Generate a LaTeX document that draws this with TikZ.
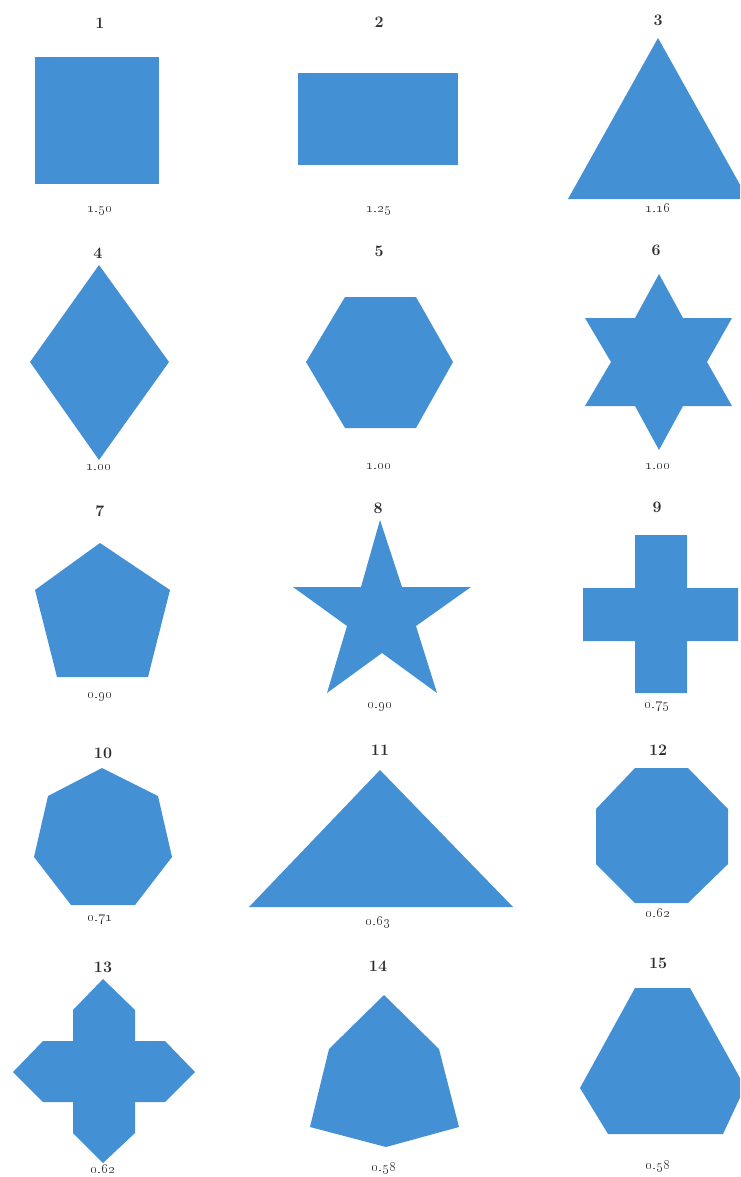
\documentclass[tikz,border=0pt]{standalone}
\definecolor{shapeblue}{RGB}{68,144,212}
\definecolor{inkgrey}{RGB}{45,45,45}
\begin{document}
\begin{tikzpicture}[x=1pt,y=-1pt,
  shp/.style={fill=shapeblue,draw=none},
  num/.style={font=\fontsize{16}{18}\selectfont\bfseries,text=inkgrey,inner sep=0pt},
  val/.style={font=\fontsize{15}{17}\selectfont,text=inkgrey,inner sep=0pt}]
\useasboundingbox (0,0) rectangle (740,1177);
\clip (0,0) rectangle (740,1177);
% 1 square
\fill[shp] (35,57) rectangle (159,184);
\node[num] (n1) at (100,23) {1};
\node[val] (v1) at (100,211) {\oldstylenums{1.50}};
% 2 rectangle
\fill[shp] (298,73) rectangle (458,165);
\node[num] (n2) at (379,22) {2};
\node[val] (v2) at (379,211) {\oldstylenums{1.25}};
% 3 triangle
\fill[shp] (658,38) -- (568,199) -- (748,199) -- cycle;
\node[num] (n3) at (658,20) {3};
\node[val] (v3) at (658,208) {\oldstylenums{1.16}};
% 4 diamond
\fill[shp] (99,265) -- (169,362) -- (99,460) -- (30,362) -- cycle;
\node[num] (n4) at (98,253) {4};
\node[val] (v4) at (99,467) {\oldstylenums{1.00}};
% 5 hexagon
\fill[shp] (345,297) -- (416,297) -- (453,362) -- (416,428) -- (345,428) -- (306,362) -- cycle;
\node[num] (n5) at (379,251) {5};
\node[val] (v5) at (379,466) {\oldstylenums{1.00}};
% 6 star of David
\fill[shp] (659,274) -- (683,318) -- (732,318) -- (707,362) -- (732,406) -- (683,406)
  -- (659,450) -- (635,406) -- (585,406) -- (611,362) -- (585,318) -- (635,318) -- cycle;
\node[num] (n6) at (656,250) {6};
\node[val] (v6) at (658,466) {\oldstylenums{1.00}};
% 7 pentagon
\fill[shp] (100,543) -- (170,590) -- (148,677) -- (57,677) -- (35,590) -- cycle;
\node[num] (n7) at (100,511) {7};
\node[val] (v7) at (100,697) {\oldstylenums{0.90}};
% 8 five-pointed star
\fill[shp] (380,520) -- (402,587) -- (471,587) -- (416,626) -- (437,693) -- (382,653)
  -- (327,693) -- (347,626) -- (293,587) -- (361,587) -- cycle;
\node[num] (n8) at (378,508) {8};
\node[val] (v8) at (380,707) {\oldstylenums{0.90}};
% 9 cross
\fill[shp] (635,535) -- (687,535) -- (687,588) -- (738,588) -- (738,641) -- (687,641)
  -- (687,693) -- (635,693) -- (635,641) -- (583,641) -- (583,588) -- (635,588) -- cycle;
\node[num] (n9) at (657,507) {9};
\node[val] (v9) at (657,707) {\oldstylenums{0.75}};
% 10 heptagon
\fill[shp] (102,768) -- (158,796) -- (172,857) -- (135,905) -- (71,905) -- (34,857) -- (48,796) -- cycle;
\node[num] (n10) at (103,753) {10};
\node[val] (v10) at (100,920) {\oldstylenums{0.71}};
% 11 triangle
\fill[shp] (380,770) -- (513,907) -- (249,907) -- cycle;
\node[num] (n11) at (380,750) {11};
\node[val] (v11) at (378,922) {\oldstylenums{0.63}};
% 12 octagon
\fill[shp] (635,768) -- (688,768) -- (728,809) -- (728,864) -- (688,903) -- (635,903) -- (596,864) -- (596,809) -- cycle;
\node[num] (n12) at (658,750) {12};
\node[val] (v12) at (658,913) {\oldstylenums{0.62}};
% 13 pointed cross
\fill[shp] (103,979) -- (135,1010) -- (135,1041) -- (165,1041) -- (195,1072) -- (165,1102)
  -- (135,1102) -- (135,1133) -- (103,1163) -- (73,1133) -- (73,1102) -- (43,1102)
  -- (13,1072) -- (43,1041) -- (73,1041) -- (73,1010) -- cycle;
\node[num] (n13) at (103,967) {13};
\node[val] (v13) at (103,1169) {\oldstylenums{0.62}};
% 14 irregular hexagon
\fill[shp] (384,995) -- (439,1049) -- (459,1127) -- (386,1147) -- (310,1127) -- (329,1049) -- cycle;
\node[num] (n14) at (378,966) {14};
\node[val] (v14) at (384,1168) {\oldstylenums{0.58}};
% 15 truncated triangle
\fill[shp] (635,988) -- (690,988) -- (745,1087) -- (723,1134) -- (608,1134) -- (580,1088) -- cycle;
\node[num] (n15) at (658,963) {15};
\node[val] (v15) at (658,1166) {\oldstylenums{0.58}};
\end{tikzpicture}
\end{document}
